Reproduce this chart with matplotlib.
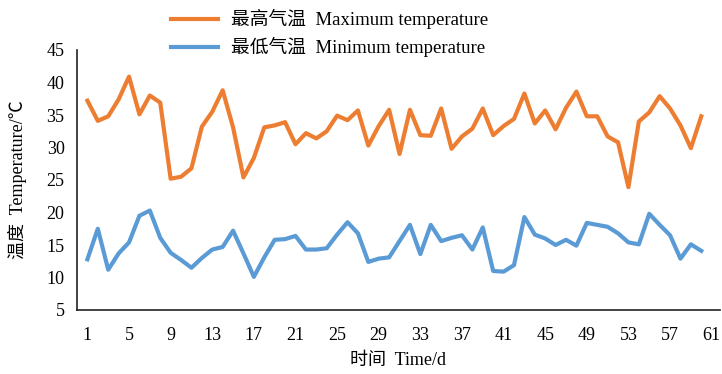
import matplotlib
matplotlib.use("Agg")
import matplotlib.pyplot as plt

days = list(range(1, 61))
tmax = [37.2, 34.1, 34.8, 37.4, 40.9, 35.1, 38.0, 36.9, 25.2, 25.5,
        26.8, 33.2, 35.5, 38.8, 33.1, 25.4, 28.4, 33.1, 33.4, 33.9,
        30.5, 32.2, 31.4, 32.5, 34.9, 34.2, 35.7, 30.3, 33.3, 35.8,
        29.0, 35.8, 31.9, 31.8, 36.0, 29.8, 31.7, 32.9, 36.0, 31.9,
        33.3, 34.4, 38.3, 33.7, 35.7, 32.8, 36.1, 38.6, 34.8, 34.8,
        31.7, 30.8, 23.9, 34.0, 35.4, 37.9, 36.0, 33.4, 29.9, 34.8]
tmin = [12.8, 17.5, 11.2, 13.7, 15.4, 19.5, 20.3, 16.1, 13.8, 12.7,
        11.5, 13.0, 14.3, 14.7, 17.2, 13.7, 10.1, 13.1, 15.8, 15.9,
        16.4, 14.3, 14.3, 14.5, 16.6, 18.5, 16.8, 12.4, 12.9, 13.1,
        15.6, 18.1, 13.6, 18.1, 15.6, 16.1, 16.5, 14.3, 17.7, 11.0,
        10.9, 11.9, 19.3, 16.6, 16.0, 15.0, 15.8, 14.9, 18.4, 18.1,
        17.8, 16.8, 15.4, 15.1, 19.8, 18.1, 16.5, 12.9, 15.1, 14.1]
xticks = list(range(1, 62, 4))
yticks = list(range(5, 46, 5))
label_max = "最高气温  Maximum temperature"
label_min = "最低气温  Minimum temperature"
xlabel = "时间  Time/d"
ylabel = "温度  Temperature/℃"

fam = ['Liberation Serif', 'Noto Sans CJK SC']
plt.rcParams['font.family'] = fam
plt.rcParams['font.size'] = 13

fig = plt.figure(figsize=(7.22, 3.74), dpi=100)
ax = fig.add_axes([77/722, 64/374, 643/722, 260/374])

ax.plot(days, tmax, color='#ED7D31', lw=3.0, label=label_max, solid_joinstyle='round')
ax.plot(days, tmin, color='#5B9BD5', lw=3.0, label=label_min, solid_joinstyle='round')

ax.set_xlim(0, 61.8)
ax.set_ylim(5, 45)
ax.set_xticks(xticks)
ax.set_yticks(yticks)
ax.tick_params(axis='both', length=0, labelsize=13)
ax.tick_params(axis='x', pad=12)
ax.tick_params(axis='y', pad=9)
for s in ['top', 'right']:
    ax.spines[s].set_visible(False)
for s in ['left', 'bottom']:
    ax.spines[s].set_linewidth(1.2)
    ax.spines[s].set_color('#222222')

ax.set_xlabel(xlabel, fontsize=13, labelpad=6)
ax.set_ylabel(ylabel, fontsize=13, labelpad=14)

fig.legend(loc='upper left', bbox_to_anchor=(162/722, 1.0), frameon=False,
           handlelength=2.5, handletextpad=0.7, labelspacing=0.4, fontsize=13.5,
           borderaxespad=0.1)

fig.savefig('out.png', dpi=100)
